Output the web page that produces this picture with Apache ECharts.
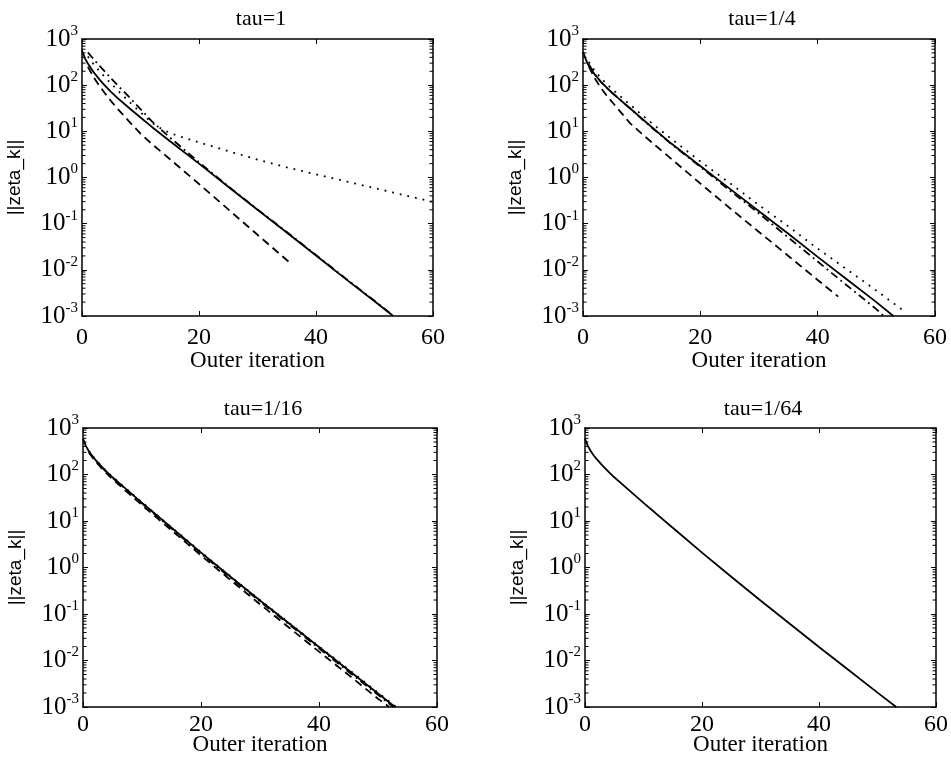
<!DOCTYPE html>
<html lang="en">
<head>
<meta charset="UTF-8">
<title>zeta_k</title>
<script src="https://cdn.jsdelivr.net/npm/echarts@6/dist/echarts.min.js"></script>
<style>
    html, body { margin: 0; padding: 0; background: #fff; }
    #main { width: 951px; height: 764px; }
</style>
</head>
<body>
<div id="main"></div>
<script>
    // panel titles and axis ticks
    var titles = ['tau=1', 'tau=1/4', 'tau=1/16', 'tau=1/64'];
    var xTicks = [0, 20, 40, 60];
    var yMin = 0.001, yMax = 1000;

    // tau=1
    var tau1Solid = [[0,562],[0.5,380],[1,295],[2,191],[3,132],[4,95.5],[5,70.8],[6,53.7],[8,32.4],[10,20.0],[12,12.3],[15,6.17],[20,2.0],[25,0.631],[30,0.200],[35,0.0646],[40,0.0204],[45,0.00646],[50,0.00209],[53.2,0.001]];
    var tau1Dashed = [[1,251],[2,148],[3,95.5],[4,64.6],[5,44.7],[6,31.6],[8,16.6],[10,8.91],[12,5.25],[15,2.51],[20,0.724],[25,0.204],[30,0.0575],[35.3,0.0151]];
    var tau1Dotted = [[1,417],[2,282],[3,200],[4,145],[6,79.4],[8,44.7],[10,25.7],[12,15.1],[14,10.5],[16,8.32],[20,5.75],[25,3.72],[30,2.45],[35,1.66],[40,1.17],[45,0.832],[50,0.589],[55,0.417],[60,0.295]];
    var tau1DashDot = [[1,513],[2,363],[3,263],[4,191],[5,138],[6,102],[8,56.2],[10,30.2],[12,16.2],[15,7.41],[20,2.14],[25,0.646],[30,0.204],[35,0.0661],[40,0.0209],[45,0.00661],[50,0.00214],[53,0.00107]];

    // tau=1/4
    var tau4Solid = [[0,525],[0.5,355],[1,263],[2,170],[3,120],[4,89.1],[5,67.6],[6,52.5],[8,31.6],[10,19.1],[12,11.5],[15,5.50],[20,1.78],[25,0.575],[30,0.186],[35,0.0603],[40,0.0191],[45,0.00617],[50,0.00200],[52.9,0.001]];
    var tau4Dashed = [[1,251],[2,141],[3,89.1],[4,60.3],[5,42.7],[6,30.2],[8,15.1],[10,8.91],[12,5.37],[15,2.57],[20,0.741],[25,0.219],[30,0.0661],[35,0.0200],[40,0.00603],[43.5,0.00263]];
    var tau4Dotted = [[1,316],[2,204],[3,145],[4,107],[5,81.3],[6,63.1],[8,38.0],[10,22.9],[12,14.1],[15,6.92],[20,2.24],[25,0.759],[30,0.251],[35,0.0871],[40,0.0288],[45,0.0102],[50,0.00355],[54.8,0.00126]];
    var tau4DashDot = [[1,282],[2,174],[3,120],[4,89.1],[5,67.6],[6,52.5],[8,31.6],[10,18.6],[12,11.2],[15,5.37],[20,1.70],[25,0.525],[30,0.166],[35,0.0501],[40,0.0151],[45,0.00457],[50,0.00141],[51.2,0.001]];

    // tau=1/16
    var tau16Solid = [[0,589],[0.5,407],[1,316],[1.5,257],[2,214],[3,155],[4,115],[5,87.1],[6,67.6],[8,40.7],[10,24.5],[12,15.0],[15.5,6.31],[20,2.09],[25,0.631],[30,0.195],[35,0.0617],[40,0.0195],[45,0.00617],[50,0.00195],[52.9,0.001]];
    var tau16Dashed = [[1,295],[2,200],[3,143],[4,106],[5,79.4],[6,61.7],[8,36.7],[10,21.9],[12,13.3],[15.5,5.56],[20,1.82],[25,0.537],[30,0.162],[35,0.0501],[40,0.0155],[45,0.0049],[50,0.00151],[51.9,0.001]];
    var tau16Dotted = [[1,324],[2,219],[3,158],[4,117],[5,89.1],[6,69.2],[8,41.7],[10,25.1],[12,15.3],[15.5,6.46],[20,2.14],[25,0.646],[30,0.200],[35,0.0631],[40,0.0200],[45,0.00646],[50,0.00204],[53.1,0.001]];
    var tau16DashDot = [[1,309],[2,209],[3,151],[4,112],[5,85.1],[6,66.1],[8,39.8],[10,24.0],[12,14.5],[15.5,6.10],[20,2.0],[25,0.603],[30,0.186],[35,0.0589],[40,0.0182],[45,0.00575],[50,0.00182],[52.6,0.001]];

    // tau=1/64 (all curves coincide)
    var tau64Solid = [[0,589],[0.5,407],[1,316],[1.5,257],[2,214],[3,155],[4,115],[5,87.1],[6,67.6],[8,40.7],[10,24.5],[12,15.0],[15.5,6.31],[20,2.09],[25,0.631],[30,0.195],[35,0.0617],[40,0.0195],[45,0.00631],[50,0.00204],[53.2,0.001]];

    var panels = [
        [tau1Solid, tau1Dashed, tau1Dotted, tau1DashDot],
        [tau4Solid, tau4Dashed, tau4Dotted, tau4DashDot],
        [tau16Solid, tau16Dashed, tau16Dotted, tau16DashDot],
        [tau64Solid]
    ];
    var dashes = ['solid', [8, 5], [1.8, 6], [8, 4, 1.8, 4]];

    // minor ticks of the log axis: 2..9 x 10^k
    var minorTicks = [];
    for (var k = -3; k < 3; k++) {
        for (var m = 2; m <= 9; m++) {
            minorTicks.push([0, m * Math.pow(10, k)]);
        }
    }

    var grids = [
        {left: 82, top: 39, width: 351, height: 277},
        {left: 583, top: 39, width: 352, height: 277},
        {left: 83, top: 428, width: 354, height: 279},
        {left: 585, top: 428, width: 352, height: 279}
    ];
    var titlePos = [[256, 3], [757, 3], [258, 393], [758, 393]];
    var nameGaps = [33, 33, 26, 26];
    var labelMargins = [10, 10, 6, 6];

    var serif = 'Liberation Serif';
    var frame = {onZero: false, lineStyle: {color: '#000', width: 1.5}};
    var tick = {inside: true, length: 5, lineStyle: {color: '#000', width: 1}};

    var xAxes = [], yAxes = [], series = [];
    grids.forEach(function (g, i) {
        xAxes.push({
            gridIndex: i, type: 'value', min: xTicks[0], max: xTicks[xTicks.length - 1], interval: 20,
            position: 'bottom',
            name: 'Outer iteration', nameLocation: 'middle', nameGap: nameGaps[i], nameMoveOverlap: false,
            nameTextStyle: {fontFamily: serif, fontSize: 23, color: '#000'},
            axisLine: frame, axisTick: tick,
            axisLabel: {fontFamily: serif, fontSize: 24, color: '#000', margin: labelMargins[i]},
            splitLine: {show: false}
        });
        xAxes.push({
            gridIndex: i, type: 'value', min: 0, max: 60, interval: 20, position: 'top',
            axisLine: frame, axisTick: tick, axisLabel: {show: false}, splitLine: {show: false}
        });
        yAxes.push({
            gridIndex: i, type: 'log', logBase: 10, min: yMin, max: yMax, splitNumber: 6,
            position: 'left',
            name: '||zeta_k||', nameLocation: 'middle', nameGap: 58, nameMoveOverlap: false,
            nameTextStyle: {fontFamily: 'Liberation Sans', fontSize: 19, color: '#000'},
            axisLine: frame, axisTick: tick,
            axisLabel: {
                margin: 4,
                formatter: function (v) {
                    return '{b|10}{s|' + Math.round(Math.log10(v)) + '}';
                },
                rich: {
                    b: {fontFamily: serif, fontSize: 25, color: '#000'},
                    s: {fontFamily: serif, fontSize: 15, color: '#000', padding: [0, 0, 16, 0]}
                }
            },
            splitLine: {show: false}
        });
        yAxes.push({
            gridIndex: i, type: 'log', logBase: 10, min: yMin, max: yMax, splitNumber: 6,
            position: 'right',
            axisLine: frame, axisTick: tick, axisLabel: {show: false}, splitLine: {show: false}
        });

        panels[i].forEach(function (d, j) {
            series.push({
                type: 'line', xAxisIndex: 2 * i, yAxisIndex: 2 * i, data: d,
                showSymbol: false, silent: true,
                lineStyle: {color: '#000', width: 1.8, type: dashes[j], cap: 'butt'}
            });
        });

        series.push({
            type: 'custom', xAxisIndex: 2 * i, yAxisIndex: 2 * i, data: minorTicks, silent: true, z: 5,
            renderItem: function (params, api) {
                var v = api.value(1);
                var pl = api.coord([0, v]);
                var pr = api.coord([60, v]);
                return {
                    type: 'group',
                    children: [
                        {type: 'line', shape: {x1: pl[0], y1: pl[1], x2: pl[0] + 3.5, y2: pl[1]}, style: {stroke: '#000', lineWidth: 1}},
                        {type: 'line', shape: {x1: pr[0], y1: pr[1], x2: pr[0] - 3.5, y2: pr[1]}, style: {stroke: '#000', lineWidth: 1}}
                    ]
                };
            }
        });
    });

    var myChart = echarts.init(document.getElementById('main'));
    var option = {
        backgroundColor: '#fff',
        animation: false,
        title: titles.map(function (t, i) {
            return {
                text: t, left: titlePos[i][0], top: titlePos[i][1], textAlign: 'center',
                textStyle: {fontFamily: serif, fontSize: 22, fontWeight: 'normal', color: '#000'}
            };
        }),
        grid: grids,
        xAxis: xAxes,
        yAxis: yAxes,
        series: series
    };
    myChart.setOption(option);
</script>
</body>
</html>
